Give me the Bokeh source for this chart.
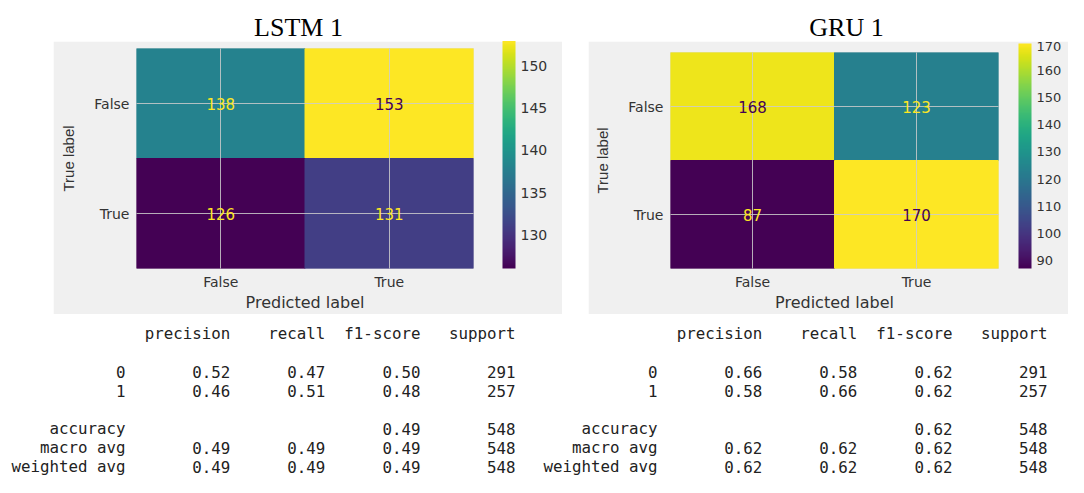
import numpy as np
from bokeh.plotting import figure
from bokeh.models import (ColumnDataSource, LinearColorMapper, ColorBar, FactorRange, Range1d,
                          SingleIntervalTicker, Spacer)
from bokeh.layouts import row, column
from bokeh.palettes import Viridis256
from bokeh.transform import transform
from bokeh.core.properties import value
from bokeh.embed import file_html
from bokeh.resources import INLINE

# ---------------- data ----------------
labels = ["False", "True"]
lstm_title = "LSTM 1"
gru_title = "GRU 1"
lstm_cm = [[138, 153], [126, 131]]
gru_cm = [[168, 123], [87, 170]]

report_headers = ["precision", "recall", "f1-score", "support"]
class_names = ["0", "1"]
support = [291, 257]
total_support = 548

lstm_precision = [0.52, 0.46]
lstm_recall = [0.47, 0.51]
lstm_f1 = [0.50, 0.48]
lstm_accuracy = 0.49
lstm_macro = [0.49, 0.49, 0.49]
lstm_weighted = [0.49, 0.49, 0.49]

gru_precision = [0.66, 0.58]
gru_recall = [0.58, 0.66]
gru_f1 = [0.62, 0.62]
gru_accuracy = 0.62
gru_macro = [0.62, 0.62, 0.62]
gru_weighted = [0.62, 0.62, 0.62]

# ---------------- style ----------------
PANEL = "#f0f0f0"
GRID = "#cbcbcb"
TXT = "#333333"
MONO = "DejaVu Sans Mono"
CW = 9.51  # px per monospace character at 15.8px
ROW = 19.0  # px per report line


def title_fig(text, width, height, x0, cx, baseline):
    p = figure(width=width, height=height, x_range=Range1d(x0, x0 + width),
               y_range=Range1d(height, 0), output_backend="svg", toolbar_location=None,
               x_axis_location=None, y_axis_location=None, min_border=0,
               outline_line_color=None, border_fill_color="white", background_fill_color="white")
    for g in p.grid:
        g.visible = False
    p.text(x=[cx], y=[baseline], text=[text], text_font=value("Liberation Serif"),
           text_font_size="26px", text_color="black", text_align="center",
           text_baseline="alphabetic")
    return p


def heatmap(cm, width, height, left, right, top, bottom, tick_int, cb_gap, cb_font):
    vals = np.array(cm)
    lo, hi = int(vals.min()), int(vals.max())
    thresh = (lo + hi) / 2.0
    mapper = LinearColorMapper(palette=Viridis256, low=lo, high=hi)
    xs, ys, vs, tc, tx = [], [], [], [], []
    for i, t in enumerate(labels):
        for j, pr in enumerate(labels):
            v = cm[i][j]
            xs.append(pr); ys.append(t); vs.append(v); tx.append(str(v))
            tc.append(Viridis256[-1] if v < thresh else Viridis256[0])
    src = ColumnDataSource(dict(x=xs, y=ys, v=vs, c=tc, t=tx))
    p = figure(width=width, height=height, x_range=FactorRange(*labels),
               y_range=FactorRange(*labels[::-1]), output_backend="svg", toolbar_location=None,
               min_border_left=left, min_border_right=right, min_border_top=top,
               min_border_bottom=bottom, background_fill_color=PANEL, border_fill_color=PANEL)
    p.rect(x="x", y="y", width=1, height=1, source=src, fill_color=transform("v", mapper),
           line_color=transform("v", mapper), line_width=1)
    p.text(x="x", y="y", text="t", text_color="c", source=src, text_align="center",
           text_baseline="middle", text_font=value("DejaVu Sans"), text_font_size="15px",
           level="annotation")
    for g in p.grid:
        g.grid_line_color = GRID
        g.grid_line_alpha = 0.85
        g.grid_line_width = 1
        g.level = "guide"
    p.outline_line_color = GRID
    p.outline_line_alpha = 0.5
    for ax in (p.xaxis, p.yaxis):
        ax.axis_line_color = None
        ax.major_tick_line_color = None
        ax.minor_tick_line_color = None
        ax.major_tick_out = 0
        ax.major_tick_in = 0
        ax.major_label_text_font = "DejaVu Sans"
        ax.major_label_text_font_size = "14px"
        ax.major_label_text_color = TXT
        ax.axis_label_text_font_style = "normal"
        ax.axis_label_text_color = TXT
    p.xaxis.axis_label = "Predicted label"
    p.xaxis.axis_label_text_font = "DejaVu Sans"
    p.xaxis.axis_label_text_font_size = "16px"
    p.xaxis.major_label_standoff = 5
    p.xaxis.axis_label_standoff = 0
    p.yaxis.axis_label = "True label"
    p.yaxis.axis_label_text_font = "Liberation Sans"
    p.yaxis.axis_label_text_font_size = "15px"
    p.yaxis.major_label_standoff = 7
    p.yaxis.axis_label_standoff = 14
    frame_w = width - left - right
    frame_h = height - top - bottom
    cb = ColorBar(color_mapper=mapper, ticker=SingleIntervalTicker(interval=tick_int),
                  width=13, height=frame_h, location=(frame_w + cb_gap, 0), margin=0, padding=0,
                  background_fill_color=None, border_line_color=None, bar_line_color=None,
                  major_tick_line_color=None, minor_tick_line_color=None, label_standoff=5,
                  major_label_text_font="DejaVu Sans", major_label_text_font_size=cb_font,
                  major_label_text_color=TXT)
    p.add_layout(cb)
    return p


def report_fig(prec, rec, f1, acc, macro, weighted, width, height, char0_px, first_row_px):
    name_width = max(len(n) for n in class_names + ["weighted avg"])
    col_end = [name_width + 1 + 10 * (k + 1) for k in range(len(report_headers))]
    tx, xs, ys = [], [], []

    def put(s, x, y):
        tx.append(s); xs.append(x); ys.append(y)

    for k, h in enumerate(report_headers):
        put(h, col_end[k], 0)
    for i, n in enumerate(class_names):
        r = 2 + i
        put(n, name_width, r)
        for k, s in enumerate([f"{prec[i]:.2f}", f"{rec[i]:.2f}", f"{f1[i]:.2f}", str(support[i])]):
            put(s, col_end[k], r)
    put("accuracy", name_width, 5)
    put(f"{acc:.2f}", col_end[2], 5)
    put(str(total_support), col_end[3], 5)
    for r, name, vals in ((6, "macro avg", macro), (7, "weighted avg", weighted)):
        put(name, name_width, r)
        for k in range(3):
            put(f"{vals[k]:.2f}", col_end[k], r)
        put(str(total_support), col_end[3], r)
    src = ColumnDataSource(dict(x=xs, y=ys, t=tx))
    p = figure(width=width, height=height,
               x_range=Range1d(-char0_px / CW, (width - char0_px) / CW),
               y_range=Range1d((height - first_row_px) / ROW, -first_row_px / ROW),
               output_backend="svg", toolbar_location=None,
               x_axis_location=None, y_axis_location=None, min_border=0,
               outline_line_color=None, border_fill_color="white", background_fill_color="white")
    for g in p.grid:
        g.visible = False
    p.text(x="x", y="y", text="t", source=src, text_align="right", text_baseline="middle",
           text_font=value(MONO), text_font_size="15.8px", text_color="#222222")
    return p


tL = title_fig(lstm_title, 576, 41, 0, 298, 27)
tR = title_fig(gru_title, 492, 41, 576, 846, 27)
hL = heatmap(lstm_cm, 509, 273, 83, 89, 7, 38, 5, 29, "14px")
hR = heatmap(gru_cm, 480, 273, 82, 70, 11, 37, 10, 20, "13px")
rL = report_fig(lstm_precision, lstm_recall, lstm_f1, lstm_accuracy, lstm_macro, lstm_weighted,
                530, 163, 11, 19)
rR = report_fig(gru_precision, gru_recall, gru_f1, gru_accuracy, gru_macro, gru_weighted,
                538, 163, 13, 19)

left_top = column(tL, row(Spacer(width=53, height=273), hL, Spacer(width=14, height=273)))
right_top = column(tR, row(Spacer(width=12, height=273), hR))
layout = column(row(left_top, right_top), row(rL, rR))

open("out.html", "w").write(file_html(layout, INLINE))
